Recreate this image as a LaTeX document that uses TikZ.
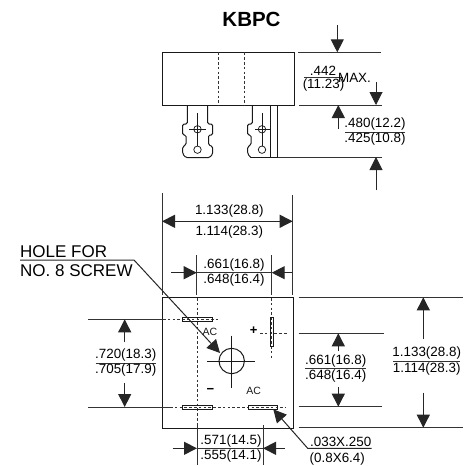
\documentclass[tikz,border=0pt]{standalone}
\usepackage{fontspec}
\setmainfont{Liberation Sans}
\usetikzlibrary{arrows.meta}

\begin{document}
\begin{tikzpicture}[x=1pt,y=-1pt]
    \tikzstyle{part}=[line width=1pt,black!90]
    \tikzstyle{extline}=[line width=1pt,black!80]
    \tikzstyle{hidden}=[line width=1pt,black!80,dash pattern=on 2.6pt off 2.2pt]
    \tikzstyle{dimarrow}=[line width=1pt,black!85,-{Triangle[length=13pt,width=13pt]}]
    \tikzstyle{dimtext}=[inner sep=0pt,text=black,font=\fontsize{13.4}{14}\selectfont]
    \tikzstyle{notetext}=[inner sep=0pt,text=black,font=\fontsize{17}{18}\selectfont]
    \tikzstyle{marktext}=[inner sep=0pt,text=black!90,font=\fontsize{10.5}{11}\selectfont]
    \tikzstyle{thin part}=[line width=0.75pt,black!90]
    \useasboundingbox (0,0) rectangle (465,466);
    \node[inner sep=0pt,font=\fontsize{20.5}{22}\selectfont\bfseries,text=black] (title) at (251.5,19) {KBPC};

    \draw[part] (162.3,52.3) rectangle (294,105.3);
    \draw[hidden] (218.7,52.3) -- (218.7,105.3);
    \draw[hidden] (244,52.3) -- (244,105.3);
    \draw[part,rounded corners=1.5pt] (187.3,105.3) -- (187.3,124) -- (182.7,124) -- (182.7,135) -- (186,135) -- (186,145) -- (182.7,146.5) -- (182.7,154) -- (186,157.7) -- (209.5,157.7) -- (212.7,154) -- (212.7,146.5) -- (208.5,145) -- (208.5,135) -- (212.7,135) -- (212.7,124) -- (207.7,124) -- (207.7,105.3);
    \draw[part,rounded corners=1.5pt] (252.3,105.3) -- (252.3,124) -- (247.7,124) -- (247.7,135) -- (251,135) -- (251,145) -- (247.7,146.5) -- (247.7,154) -- (251,157.7);
    \draw[part] (251,157.7) -- (277,157.7);
    \draw[part] (270.3,105.3) -- (270.3,157.7);
    \draw[part] (277,105.3) -- (277,157.7);
    \foreach \tabx/\tabl/\tabr in {197.5/189/206,262/255/270}{
        \draw[thin part] (\tabx,129.3) circle (3.7);
        \draw[thin part] (\tabx,149.7) circle (3.7);
        \draw[thin part] (\tabx,113) -- (\tabx,146);
        \draw[thin part] (\tabl,129.3) -- (\tabr,129.3);
    }
    \draw[extline] (298,52.3) -- (380.7,52.3);
    \draw[extline] (299,105) -- (382,105);
    \draw[extline] (278,157) -- (382,157);
    \draw[dimarrow] (337.3,25) -- (337.3,52.3);
    \draw[dimarrow] (376,82) -- (376,105);
    \draw[dimarrow] (338.3,129) -- (338.3,105);
    \draw[dimarrow] (376,190) -- (376,157);
    \node[dimtext] (heighta) at (323,70.5) {.442};
    \draw[extline] (304,77.7) -- (343,77.7);
    \node[dimtext] (heightb) at (323.5,85.5) {(11.23)};
    \node[dimtext] (heightc) at (354.5,78) {MAX.};
    \node[dimtext] (tabd) at (375,124) {.480(12.2)};
    \draw[extline] (345,132) -- (405,132);
    \node[dimtext] (tabe) at (375,139.5) {.425(10.8)};

    \draw[part] (162.3,297.7) rectangle (293.7,428);
    \draw[extline] (162,193) -- (162,295);
    \draw[extline] (292.7,195) -- (292.7,295);
    \draw[dimarrow] (229,221.3) -- (162,221.3);
    \draw[dimarrow] (229,221.3) -- (292.7,221.3);
    \node[dimtext] (widtha) at (229.3,210.7) {1.133(28.8)};
    \node[dimtext] (widthb) at (229.3,231.7) {1.114(28.3)};
    \draw[extline] (196.7,255) -- (196.7,295);
    \draw[extline] (271.7,255) -- (271.7,295);
    \draw[dimarrow] (171,272.7) -- (196.7,272.7);
    \draw[dimarrow] (292,272.7) -- (271.7,272.7);
    \draw[extline] (196.7,272.7) -- (271.7,272.7);
    \node[dimtext] (spana) at (234,265) {.661(16.8)};
    \node[dimtext] (spanb) at (234,280) {.648(16.4)};

    \draw[hidden] (197,298) -- (197,423);
    \draw[hidden] (271.7,298) -- (271.7,358);
    \draw[extline] (197,423) -- (197,465);
    \draw[extline] (263,425) -- (263,465);
    \draw[extline] (88,319.3) -- (163,319.3);
    \draw[hidden] (163,319.3) -- (220,319.3);
    \draw[extline] (88,407) -- (170,407);
    \draw[hidden] (170,407) -- (286,407);
    \draw[hidden] (260,333.3) -- (287,333.3);
    \draw[extline] (298.7,333.3) -- (383.5,333.3);
    \draw[extline] (298.7,406.7) -- (382,406.7);
    \draw[extline] (298.7,297.3) -- (463,297.3);
    \draw[extline] (298.7,427.7) -- (463,427.7);
    \draw[thin part] (182.7,317.3) rectangle (212.3,321.3);
    \draw[thin part] (182.7,405) rectangle (212.3,409.3);
    \draw[thin part] (248.3,405) rectangle (277.7,409.3);
    \draw[thin part] (270,317) rectangle (273.3,346);

    \draw[part] (231.7,361) circle (12.7);
    \draw[thin part] (207,361) -- (255,361);
    \draw[thin part] (231.7,335.7) -- (231.7,387.7);

    \node[notetext,anchor=west] (holea) at (20,251.5) {HOLE FOR};
    \node[notetext,anchor=west] (holeb) at (20,270.5) {NO. 8 SCREW};
    \draw[dimarrow] (20,260) -- (134,260) -- (220,353);

    \node[marktext] (aca) at (210,332) {AC};
    \node[marktext] (acb) at (253.7,391) {AC};
    \node[inner sep=0pt,font=\fontsize{13}{14}\selectfont\bfseries,text=black] (plus) at (253.7,331) {+};
    \node[inner sep=0pt,font=\fontsize{13}{14}\selectfont\bfseries,text=black] (minus) at (210.3,391) {−};

    \draw[dimarrow] (124.7,341.7) -- (124.7,319.3);
    \draw[dimarrow] (124.7,383) -- (124.7,407);
    \node[dimtext] (pitcha) at (125.7,355) {.720(18.3)};
    \draw[extline] (95.7,363) -- (156,363);
    \node[dimtext] (pitchb) at (125.7,370.5) {.705(17.9)};

    \draw[dimarrow] (338.3,351) -- (338.3,333.3);
    \draw[dimarrow] (338.3,387) -- (338.3,406.7);
    \node[dimtext] (pitchc) at (335.7,360.7) {.661(16.8)};
    \draw[extline] (305,368.3) -- (366,368.3);
    \node[dimtext] (pitchd) at (335.7,376) {.648(16.4)};

    \draw[dimarrow] (423.3,339) -- (423.3,297.3);
    \draw[dimarrow] (423.3,392.7) -- (423.3,427.7);
    \node[dimtext] (depa) at (426.7,353) {1.133(28.8)};
    \draw[extline] (393,361) -- (460,361);
    \node[dimtext] (depb) at (426.7,369) {1.114(28.3)};

    \draw[dimarrow] (172.7,448.3) -- (197,448.3);
    \draw[dimarrow] (285,448.3) -- (263,448.3);
    \draw[extline] (197,448.3) -- (263,448.3);
    \node[dimtext] (slota) at (231,440.7) {.571(14.5)};
    \node[dimtext] (slotb) at (231,456) {.555(14.1)};

    \draw[dimarrow] (371.7,448.3) -- (307.7,448.3) -- (273.3,409.3);
    \node[dimtext] (sizea) at (340.7,442.3) {.033X.250};
    \node[dimtext] (sizeb) at (337.3,459) {(0.8X6.4)};
\end{tikzpicture}
\end{document}
